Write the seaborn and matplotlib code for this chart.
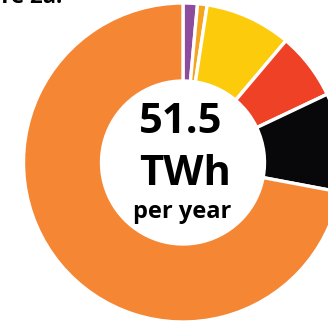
import matplotlib
matplotlib.use("Agg")
import matplotlib.pyplot as plt
import seaborn as sns

# Data (TWh per year), clockwise from top
categories = ["Purple", "Light orange", "Yellow", "Red", "Black", "Orange"]
values = [0.75, 0.5, 4.5, 3.5, 5.15, 37.1]
colors = ["#8E4C9E", "#F5A41E", "#FCCC0C", "#EF4126", "#08080A", "#F58634"]
total_label = "51.5"
unit_label = "TWh"
sub_label = "per year"
title_tail = "Figure 2a."

sns.set_theme(style="white")
plt.rcParams['font.family'] = ['Open Sans', 'DejaVu Sans']

W, H = 328, 323
cx, cy = 183, 162.5
fig = plt.figure(figsize=(W / 100, H / 100), dpi=100)
ax = fig.add_axes([0, 0, 1, 1])

palette = sns.color_palette(colors)
ax.pie(values, colors=palette, startangle=90, counterclock=False,
       radius=159.5, wedgeprops=dict(width=78, edgecolor="white", linewidth=2.4),
       center=(0, 0), frame=False)
ax.set_xlim(-cx, W - cx)
ax.set_ylim(-(H - cy), cy)
ax.set_aspect("equal")
ax.set_axis_off()

ax.text(-2, 29.5, total_label, ha="center", va="baseline", fontsize=30, fontweight="bold", color="black")
ax.text(2, -22.5, unit_label, ha="center", va="baseline", fontsize=30, fontweight="bold", color="black")
ax.text(-1, -55.5, sub_label, ha="center", va="baseline", fontsize=17, fontweight="bold", color="black")

fig.text(62 / W, 1 - 3 / H, title_tail, ha="right", va="baseline", fontsize=16, fontweight="bold", color="black")

fig.savefig("out.png", dpi=100)
